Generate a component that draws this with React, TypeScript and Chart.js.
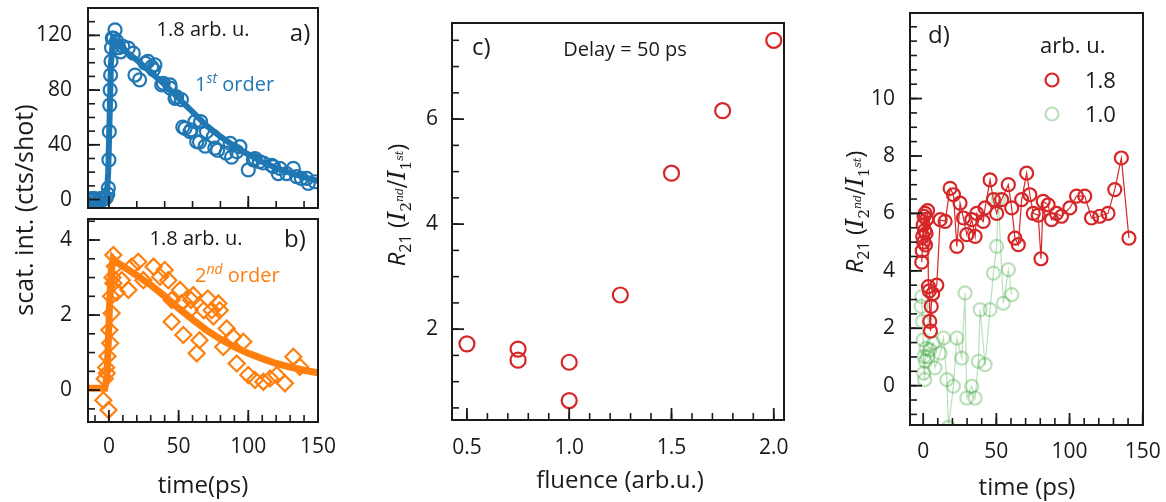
import React, { useEffect, useRef } from "react";
import { Chart, registerables } from "chart.js";
Chart.register(...registerables);

const W = 1166;
const H = 502;
const SANS = '"Open Sans", "Noto Sans", sans-serif';
const SERIF = '"DejaVu Serif", "Liberation Serif", serif';
const INK = "#1a1a1a";
const BLUE = "#1f77b4";
const ORANGE = "#ff7f0e";
const RED = "#d62728";
const GREEN = "rgba(44,160,44,0.32)";

// ---------------- data ----------------
// a) 1st order, 1.8 arb. u.
const aTime = [-14, -12.5, -11, -9.5, -8, -6.5, -5, -3.5, -2, -0.8, -0.4, 0, 0.3, 0.6, 0.9, 1.2, 1.5, 1.9, 2.4, 3.2, 4.4, 5.5, 7, 8.5, 10,
  13.9, 17.5, 18.7, 22, 26, 28, 30.7, 32, 33, 37.9, 39, 43.8, 44, 47.4, 48.6, 52, 53, 54.6, 58.2, 59, 61.8, 63, 65, 65.8, 69, 70,
  75, 76, 78, 84, 87, 88, 91.7, 94, 100, 103.6, 104.8, 108, 110.8, 116.8, 118, 121.5, 122.7, 127.5, 132.3, 134.7, 138, 141.9, 143, 147.8];
const aCounts = [0.5, -0.5, 0.8, 0, -0.8, 0.6, -0.3, 0.4, 1.2, 4, 8.4, 29, 49.6, 69, 80, 91, 101, 111, 118, 118, 124, 116, 111, 108, 112,
  110.7, 107, 91, 87.5, 99.7, 101, 97, 95, 98.5, 83.8, 85, 83.8, 81.5, 74, 75, 73, 53, 52, 49.6, 51, 57, 42.3, 42, 57, 39, 49.6,
  46, 37.5, 36, 34, 41, 31, 35, 38.6, 21.6, 29, 30, 27.7, 26.7, 25, 24, 19, 22.8, 19, 22.8, 16.7, 15.5, 15.5, 11.8, 13];
const aFitTime = [-15, -3, -1.5, -0.5, 0.5, 1.5, 3, 5, 10, 20, 30, 40, 50, 60, 70, 80, 90, 100, 110, 120, 130, 140, 150];
const aFitCounts = [0, 0, 3, 20, 60, 100, 118, 116, 110, 102, 93, 84, 74, 64, 54, 46, 39, 33, 27.5, 23, 19.5, 16.3, 13.7];

// b) 2nd order, 1.8 arb. u.
const bTime = [-4, -3, -2, -1.5, -1, -0.3, 0.3, 0.9, 1.5, 2, 2.6, 3.2, 3.2, 4.3, 5.6,
  9.2, 14, 16.3, 21, 24.7, 32, 36.7, 40, 42.6, 45, 45, 51, 52, 53.4, 58, 59, 60.5, 63, 65, 68, 71, 73.7, 75, 78.5, 79.5,
  82, 84.5, 89, 91.7, 96.4, 100, 104.8, 110.8, 115.6, 120.4, 126.3, 132.3, 137];
const bCounts = [-0.27, 0.3, 0.6, 0.45, 0.9, -0.53, 1.6, 1.25, 2.5, 2.05, 3.0, 2.85, 3.6, 3.3, 2.6,
  2.93, 2.67, 3.29, 3.42, 2.93, 3.29, 3.02, 3.2, 2.93, 2.4, 1.82, 2.67, 2.31, 1.47, 2.13, 2.4, 2.53, 0.98, 1.33, 2.13, 2.44, 2.13, 1.96, 2.31, 2.13,
  1.15, 1.64, 1.42, 0.71, 1.29, 0.4, 0.27, 0.22, 0.31, 0.4, 0.18, 0.89, 0.62];
const bFitTime = [-15, -3, -1.5, -0.5, 0.5, 1.5, 3, 5, 10, 20, 30, 40, 50, 60, 70, 80, 90, 100, 110, 120, 130, 140, 150];
const bFitCounts = [0.05, 0.05, 0.3, 1.2, 2.3, 3.1, 3.5, 3.42, 3.3, 3.06, 2.8, 2.5, 2.18, 1.88, 1.6, 1.36, 1.15, 0.98, 0.84, 0.71, 0.61, 0.53, 0.46];

// c) ratio vs fluence, delay 50 ps
const cFluence = [0.5, 0.75, 0.75, 1.0, 1.0, 1.25, 1.5, 1.75, 2.0];
const cRatio = [1.72, 1.62, 1.41, 1.37, 0.64, 2.65, 4.97, 6.16, 7.5];

// d) ratio vs time
const dTime18 = [-1.0, -0.6, -0.3, 0.0, 0.3, 0.6, 1.0, 1.3, 1.6, 2.0, 2.4, 3.0, 3.6, 4.2, 4.5, 5.0, 5.5, 6.5, 9.3, 11.6,
  15.0, 18.4, 20.7, 23.0, 25.2, 27.5, 29.8, 33.2, 35.5, 36.6, 41.0, 42.3, 45.7, 48.0, 50.2, 53.6, 58.2, 60.5, 62.7, 65.0,
  67.3, 70.7, 72.9, 75.2, 78.6, 80.5, 82.0, 85.4, 87.7, 91.1, 94.5, 100.2, 104.8, 110.4, 115.0, 120.6, 126.3, 130.9, 135.4, 140.6];
const dRatio18 = [4.3, 4.7, 5.2, 5.6, 5.0, 5.9, 5.4, 6.0, 4.9, 5.3, 5.8, 6.1, 3.45, 3.3, 2.24, 1.9, 2.76, 3.2, 3.5, 5.78,
  5.72, 6.87, 6.65, 4.85, 6.36, 5.84, 5.26, 5.78, 5.2, 6.0, 5.72, 6.19, 7.17, 6.48, 6.0, 6.48, 7.0, 6.19, 5.14, 4.91,
  6.48, 7.4, 6.65, 6.0, 5.94, 4.42, 6.42, 6.3, 5.78, 6.0, 5.9, 6.19, 6.6, 6.6, 5.84, 5.9, 6.0, 6.83, 7.93, 5.14];
const dTime10 = [-1.4, -0.9, -0.5, 0.0, 0.4, 0.7, 1.0, 1.4, 2.0, 3.0, 4.5, 7.0, 8.0, 11.6, 13.9, 16.2, 17.3, 20.7, 23.0, 26.4,
  28.6, 29.8, 33.2, 35.5, 37.7, 38.9, 42.3, 45.7, 48.0, 50.2, 51.3, 54.8, 58.2, 60.5];
const dRatio10 = [2.76, 3.1, 2.24, 1.6, 0.44, 1.02, 0.21, 0.85, 1.3, 1.0, 1.25, 1.48, 0.62, 1.13, 1.66, 0.21, -1.45, -0.02, 1.66, 0.96,
  3.23, -0.43, -0.02, -0.43, 0.85, 2.65, 0.73, 2.65, 3.92, 4.85, 6.5, 2.87, 4.04, 3.17];

// tick values / labels
const abXTicks = [0, 50, 100, 150];
const abXLabels = ["0", "50", "100", "150"];
const aXMajor = [0, 100];
const aYTicks = [0, 40, 80, 120];
const aYLabels = ["0", "40", "80", "120"];
const bYTicks = [0, 2, 4];
const bYLabels = ["0", "2", "4"];
const cXTicks = [0.5, 1.0, 1.5, 2.0];
const cXLabels = ["0.5", "1.0", "1.5", "2.0"];
const cYTicks = [2, 4, 6];
const cYLabels = ["2", "4", "6"];
const dXTicks = [0, 50, 100, 150];
const dXLabels = ["0", "50", "100", "150"];
const dYTicks = [0, 2, 4, 6, 8, 10];
const dYLabels = ["0", "2", "4", "6", "8", "10"];
const legendTitle = "arb. u.";
const legendLabels = ["1.8", "1.0"];

// ---------------- helpers ----------------
function steps(from: number, to: number, step: number): number[] {
  const out: number[] = [];
  for (let v = from; v <= to + 1e-9; v += step) out.push(+v.toFixed(6));
  return out;
}
function pts(xs: number[], ys: number[]) {
  return xs.map((x, i) => ({ x, y: ys[i] }));
}

type Run = { t: string; size: number; italic?: boolean; serif?: boolean; dy?: number };
function runFont(r: Run) {
  return `${r.italic ? "italic " : ""}${r.size}px ${r.serif ? SERIF : SANS}`;
}
function drawRuns(ctx: CanvasRenderingContext2D, runs: Run[], x: number, y: number,
  align: "left" | "center" | "right" = "left", color = INK, rotate = 0) {
  ctx.save();
  ctx.translate(x, y);
  if (rotate) ctx.rotate(rotate);
  ctx.fillStyle = color;
  ctx.textBaseline = "alphabetic";
  ctx.textAlign = "left";
  let total = 0;
  const widths = runs.map((r) => {
    ctx.font = runFont(r);
    const w = ctx.measureText(r.t).width;
    total += w;
    return w;
  });
  let cx = align === "center" ? -total / 2 : align === "right" ? -total : 0;
  runs.forEach((r, i) => {
    ctx.font = runFont(r);
    ctx.fillText(r.t, cx, r.dy || 0);
    cx += widths[i];
  });
  ctx.restore();
}

type AxisSpec = { min: number; max: number; ticks: number[]; labels: string[] | null; major: number[]; minor: number[]; pad: number };
type PanelSpec = {
  box: [number, number, number, number];
  x: AxisSpec;
  y: AxisSpec;
  datasets: any[];
  texts: (ctx: CanvasRenderingContext2D) => void;
};

const YW = 70;
const XH = 60;
const TICK_FONT = 21;

function axisCfg(axis: "x" | "y", s: AxisSpec) {
  return {
    type: "linear",
    position: axis === "x" ? "bottom" : "left",
    min: s.min,
    max: s.max,
    grid: { display: false, drawTicks: false },
    border: { display: false },
    ticks: {
      display: !!s.labels,
      autoSkip: false,
      maxRotation: 0,
      minRotation: 0,
      padding: s.pad,
      color: INK,
      font: { family: SANS, size: TICK_FONT },
      callback: (_v: any, i: number) => (s.labels ? s.labels[i] ?? "" : ""),
    },
    afterBuildTicks: (sc: any) => {
      sc.ticks = s.ticks.map((v) => ({ value: v }));
    },
    afterFit: (sc: any) => {
      if (axis === "x") sc.height = XH;
      else sc.width = YW;
      sc.paddingTop = 0;
      sc.paddingBottom = 0;
      sc.paddingLeft = 0;
      sc.paddingRight = 0;
    },
  };
}

function drawFrame(chart: any, p: PanelSpec) {
  const { ctx, chartArea: ca, scales } = chart;
  const xs = scales.x;
  const ys = scales.y;
  ctx.save();
  ctx.strokeStyle = INK;
  ctx.lineCap = "butt";
  const tick = (vals: number[], len: number, horiz: boolean) => {
    vals.forEach((v) => {
      if (horiz) {
        const px = xs.getPixelForValue(v);
        if (px < ca.left - 0.5 || px > ca.right + 0.5) return;
        ctx.beginPath();
        ctx.moveTo(px, ca.bottom);
        ctx.lineTo(px, ca.bottom - len);
        ctx.stroke();
      } else {
        const py = ys.getPixelForValue(v);
        if (py < ca.top - 0.5 || py > ca.bottom + 0.5) return;
        ctx.beginPath();
        ctx.moveTo(ca.left, py);
        ctx.lineTo(ca.left + len, py);
        ctx.stroke();
      }
    });
  };
  ctx.lineWidth = 1.6;
  tick(p.x.minor, 7, true);
  tick(p.y.minor, 7, false);
  ctx.lineWidth = 1.8;
  tick(p.x.major, 12, true);
  tick(p.y.major, 12, false);
  ctx.lineWidth = 2;
  ctx.strokeRect(ca.left, ca.top, ca.right - ca.left, ca.bottom - ca.top);
  ctx.restore();
}

function buildChart(canvas: HTMLCanvasElement, p: PanelSpec) {
  const [L, T, R, B] = p.box;
  return new Chart(canvas, {
    type: "scatter",
    data: { datasets: p.datasets },
    options: {
      responsive: false,
      animation: false,
      devicePixelRatio: 1,
      events: [],
      layout: { autoPadding: false, padding: { left: L - YW, top: T, right: W - R, bottom: H - B - XH } },
      plugins: { legend: { display: false }, tooltip: { enabled: false } },
      scales: { x: axisCfg("x", p.x) as any, y: axisCfg("y", p.y) as any },
    },
    plugins: [
      {
        id: "deco",
        afterDraw: (chart: any) => {
          drawFrame(chart, p);
          p.texts(chart.ctx);
        },
      },
    ],
  } as any);
}

const sup = (t: string, size: number, dy: number): Run => ({ t, size, italic: true, dy });

const panels: PanelSpec[] = [
  {
    box: [88, 8, 318, 208],
    x: { min: -15, max: 150, ticks: abXTicks, labels: null, major: aXMajor, minor: steps(20, 140, 20), pad: 12 },
    y: { min: -6.2, max: 140, ticks: aYTicks, labels: aYLabels, major: aYTicks, minor: steps(10, 130, 10), pad: 16 },
    datasets: [
      { data: pts(aFitTime, aFitCounts), showLine: true, borderColor: BLUE, borderWidth: 6, pointRadius: 0, tension: 0 },
      { data: pts(aTime, aCounts), showLine: false, borderColor: BLUE, backgroundColor: "rgba(0,0,0,0)", borderWidth: 2.2, pointRadius: 6.5, pointStyle: "circle" },
    ],
    texts: (ctx) => {
      drawRuns(ctx, [{ t: "1.8 arb. u.", size: 20 }], 203, 36, "center");
      drawRuns(ctx, [{ t: "a)", size: 24 }], 300, 41, "center");
      drawRuns(ctx, [{ t: "1", size: 20 }, sup("st", 14, -8), { t: " order", size: 20 }], 195, 91, "left", BLUE);
    },
  },
  {
    box: [88, 219, 318, 422],
    x: { min: -15, max: 150, ticks: abXTicks, labels: abXLabels, major: [0, 50, 100], minor: steps(-10, 140, 10), pad: 12 },
    y: { min: -0.85, max: 4.56, ticks: bYTicks, labels: bYLabels, major: bYTicks, minor: steps(-0.5, 4.5, 0.5), pad: 16 },
    datasets: [
      { data: pts(bFitTime, bFitCounts), showLine: true, borderColor: ORANGE, borderWidth: 7, pointRadius: 0, tension: 0 },
      { data: pts(bTime, bCounts), showLine: false, borderColor: ORANGE, backgroundColor: "rgba(0,0,0,0)", borderWidth: 2.2, pointRadius: 8, pointStyle: "rectRot" },
    ],
    texts: (ctx) => {
      drawRuns(ctx, [{ t: "1.8 arb. u.", size: 20 }], 196, 245, "center");
      drawRuns(ctx, [{ t: "b)", size: 24 }], 295, 247, "center");
      drawRuns(ctx, [{ t: "2", size: 20 }, sup("nd", 14, -8), { t: " order", size: 20 }], 195, 282, "left", ORANGE);
      drawRuns(ctx, [{ t: "scat. int. (cts/shot)", size: 25 }], 33, 210, "center", INK, -Math.PI / 2);
      drawRuns(ctx, [{ t: "time(ps)", size: 24 }], 203, 493, "center");
    },
  },
  {
    box: [452, 23, 784, 420],
    x: { min: 0.427, max: 2.05, ticks: cXTicks, labels: cXLabels, major: cXTicks, minor: steps(0.5, 2.0, 0.1), pad: 15 },
    y: { min: 0.27, max: 7.83, ticks: cYTicks, labels: cYLabels, major: cYTicks, minor: steps(0.5, 7.5, 0.5), pad: 14 },
    datasets: [
      { data: pts(cFluence, cRatio), showLine: false, borderColor: RED, backgroundColor: "rgba(0,0,0,0)", borderWidth: 2.2, pointRadius: 7.5, pointStyle: "circle" },
    ],
    texts: (ctx) => {
      drawRuns(ctx, [{ t: "c)", size: 24 }], 472, 55, "left");
      drawRuns(ctx, [{ t: "Delay = 50 ps", size: 20 }], 625, 56, "center");
      drawRuns(ctx, [
        { t: "R", size: 24, italic: true },
        { t: "21", size: 16, dy: 6 },
        { t: " (", size: 24 },
        { t: "I", size: 24, italic: true, serif: true },
        { t: "2", size: 15, serif: true, dy: 6 },
        { t: "nd", size: 11, italic: true, serif: true, dy: -2 },
        { t: "/", size: 24, serif: true },
        { t: "I", size: 24, italic: true, serif: true },
        { t: "1", size: 15, serif: true, dy: 6 },
        { t: "st", size: 11, italic: true, serif: true, dy: -2 },
        { t: ")", size: 24 },
      ], 405, 205, "center", INK, -Math.PI / 2);
      drawRuns(ctx, [{ t: "fluence (arb.u.)", size: 24 }], 620, 488, "center");
    },
  },
  {
    box: [910, 13, 1143, 425],
    x: { min: -9, max: 150.2, ticks: dXTicks, labels: dXLabels, major: dXTicks, minor: steps(10, 140, 10), pad: 14 },
    y: { min: -1.37, max: 12.98, ticks: dYTicks, labels: dYLabels, major: dYTicks, minor: steps(-1, 12.5, 0.5), pad: 15 },
    datasets: [
      { data: pts(dTime18, dRatio18), showLine: true, borderColor: RED, backgroundColor: "rgba(0,0,0,0)", borderWidth: 1.2, pointBorderWidth: 2.2, pointRadius: 6.5, pointStyle: "circle", tension: 0 },
      { data: pts(dTime10, dRatio10), showLine: true, borderColor: GREEN, backgroundColor: "rgba(0,0,0,0)", borderWidth: 1.2, pointBorderWidth: 2.2, pointRadius: 6.5, pointStyle: "circle", tension: 0 },
    ],
    texts: (ctx) => {
      drawRuns(ctx, [{ t: "d)", size: 24 }], 928, 43, "left");
      drawRuns(ctx, [{ t: legendTitle, size: 22 }], 1040, 53, "left");
      const items = [RED, GREEN];
      items.forEach((c, i) => {
        const cy = 80 + i * 34;
        ctx.save();
        ctx.strokeStyle = c;
        ctx.lineWidth = 2.2;
        ctx.beginPath();
        ctx.arc(1052, cy, 6.5, 0, Math.PI * 2);
        ctx.stroke();
        ctx.restore();
        drawRuns(ctx, [{ t: legendLabels[i], size: 22 }], 1085, cy + 7.5, "left");
      });
      drawRuns(ctx, [
        { t: "R", size: 24, italic: true },
        { t: "21", size: 16, dy: 6 },
        { t: " (", size: 24 },
        { t: "I", size: 24, italic: true, serif: true },
        { t: "2", size: 15, serif: true, dy: 6 },
        { t: "nd", size: 11, italic: true, serif: true, dy: -2 },
        { t: "/", size: 24, serif: true },
        { t: "I", size: 24, italic: true, serif: true },
        { t: "1", size: 15, serif: true, dy: 6 },
        { t: "st", size: 11, italic: true, serif: true, dy: -2 },
        { t: ")", size: 24 },
      ], 863, 212, "center", INK, -Math.PI / 2);
      drawRuns(ctx, [{ t: "time (ps)", size: 24 }], 1027, 495, "center");
    },
  },
];

export default function App() {
  const refs = [useRef<HTMLCanvasElement>(null), useRef<HTMLCanvasElement>(null), useRef<HTMLCanvasElement>(null), useRef<HTMLCanvasElement>(null)];
  useEffect(() => {
    const charts = panels.map((p, i) => buildChart(refs[i].current as HTMLCanvasElement, p));
    return () => charts.forEach((c) => c.destroy());
  }, []);
  return (
    <div style={{ position: "absolute", left: 0, top: 0, width: W, height: H, background: "#fff", overflow: "hidden" }}>
      {refs.map((r, i) => (
        <canvas key={i} ref={r} width={W} height={H} style={{ position: "absolute", left: 0, top: 0, width: W, height: H }} />
      ))}
    </div>
  );
}
